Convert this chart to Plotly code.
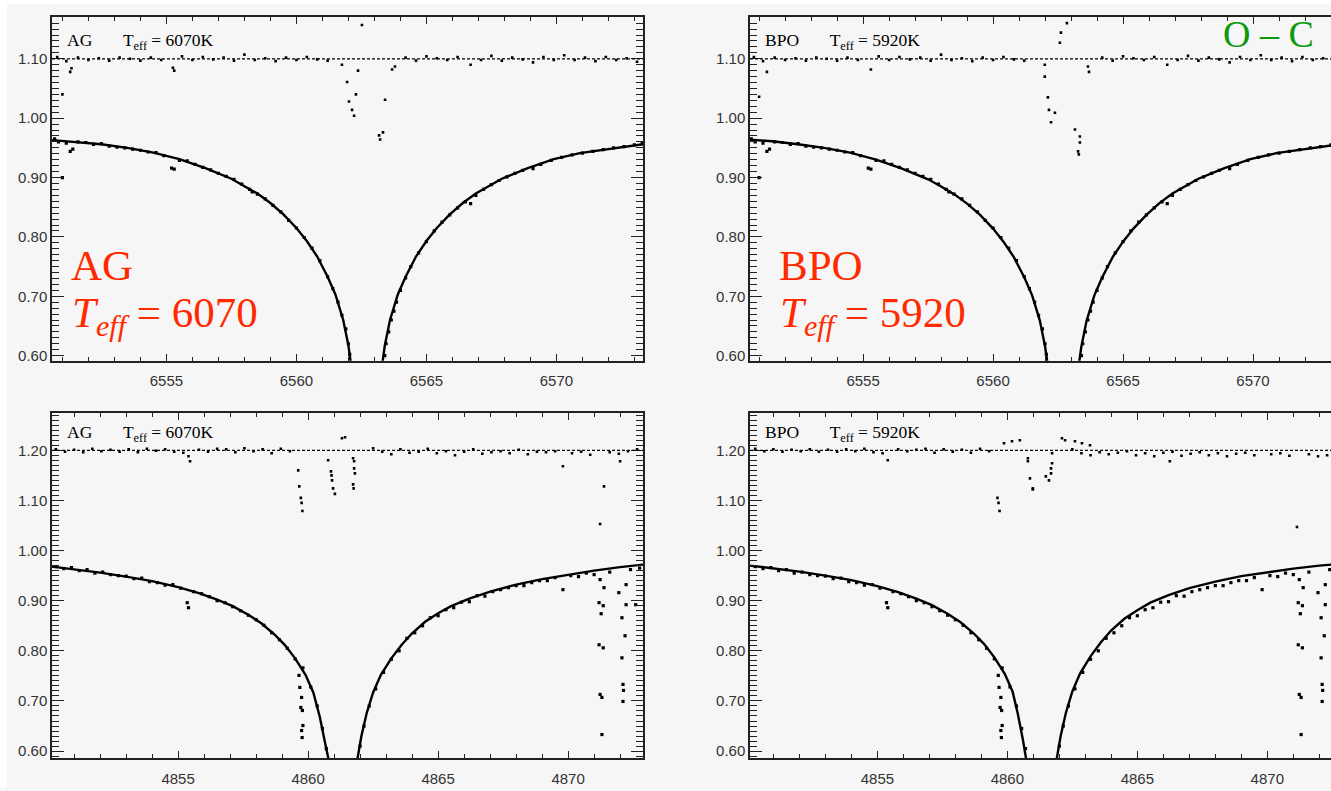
import plotly.graph_objects as go

# ---------------- H-alpha: model profiles (normalised flux) ----------------
ha_ag_blue_wave = [6550.6, 6551.5, 6552.5, 6553.5, 6554.5, 6555.5, 6556.5, 6557.5, 6558.0, 6558.5,
                   6559.0, 6559.5, 6560.0, 6560.4, 6560.8, 6561.2, 6561.5, 6561.8, 6562.0, 6562.1]
ha_ag_blue_flux = [0.963, 0.960, 0.956, 0.950, 0.942, 0.931, 0.916, 0.898, 0.886, 0.873,
                   0.857, 0.838, 0.815, 0.793, 0.767, 0.733, 0.703, 0.660, 0.617, 0.585]
ha_ag_red_wave = [6563.3, 6563.4, 6563.6, 6563.9, 6564.2, 6564.6, 6565.0, 6565.4, 6565.9, 6566.4,
                  6566.9, 6567.4, 6567.9, 6568.9, 6569.9, 6570.9, 6571.9, 6572.9, 6573.5]
ha_ag_red_flux = [0.585, 0.617, 0.660, 0.703, 0.733, 0.767, 0.793, 0.815, 0.838, 0.857,
                  0.873, 0.886, 0.898, 0.916, 0.931, 0.941, 0.947, 0.954, 0.957]

ha_bpo_blue_wave = [6550.6, 6551.5, 6552.5, 6553.5, 6554.5, 6555.5, 6556.5, 6557.5, 6558.0, 6558.5,
                    6559.0, 6559.5, 6560.0, 6560.4, 6560.8, 6561.2, 6561.5, 6561.8, 6562.0, 6562.1]
ha_bpo_blue_flux = [0.964, 0.961, 0.956, 0.950, 0.942, 0.930, 0.915, 0.897, 0.885, 0.872,
                    0.856, 0.837, 0.814, 0.792, 0.766, 0.732, 0.702, 0.659, 0.616, 0.585]
ha_bpo_red_wave = [6563.3, 6563.4, 6563.6, 6563.9, 6564.2, 6564.6, 6565.0, 6565.4, 6565.9, 6566.4,
                   6566.9, 6567.4, 6567.9, 6568.9, 6569.9, 6570.9, 6571.9, 6572.9, 6573.5]
ha_bpo_red_flux = [0.585, 0.616, 0.659, 0.702, 0.732, 0.766, 0.792, 0.814, 0.837, 0.857,
                   0.873, 0.886, 0.898, 0.916, 0.931, 0.941, 0.947, 0.954, 0.957]

# ---------------- H-alpha: observed spectrum ----------------
ha_obs_wave = [6550.7, 6550.85, 6551.0, 6551.15, 6551.3, 6551.4, 6551.6, 6551.9, 6552.2, 6552.5,
               6552.8, 6553.1, 6553.4, 6553.7, 6554.0, 6554.3, 6554.6, 6554.9, 6555.2, 6555.3,
               6555.5, 6555.8, 6556.1, 6556.4, 6556.7, 6557.0, 6557.3, 6557.6, 6557.9, 6558.2,
               6558.3, 6558.5, 6558.8, 6559.1, 6559.4, 6559.7, 6560.0, 6560.3, 6560.6, 6560.9,
               6561.2, 6561.4, 6561.6, 6561.75, 6561.9, 6562.0, 6562.05,
               6563.4, 6563.45, 6563.55, 6563.65, 6563.75, 6563.85, 6564.0, 6564.2, 6564.4,
               6564.7, 6565.0, 6565.3, 6565.6, 6565.9, 6566.2, 6566.5, 6566.7, 6566.9, 6567.2,
               6567.5, 6567.8, 6568.1, 6568.4, 6568.7, 6569.1, 6569.4, 6569.8, 6570.2, 6570.6,
               6571.0, 6571.4, 6571.8, 6572.2, 6572.6, 6573.0, 6573.3]
ha_obs_flux = [0.965, 0.960, 0.900, 0.958, 0.944, 0.948, 0.960, 0.959, 0.956, 0.957,
               0.953, 0.951, 0.950, 0.948, 0.946, 0.943, 0.942, 0.937, 0.916, 0.914,
               0.929, 0.928, 0.922, 0.917, 0.913, 0.907, 0.902, 0.897, 0.889, 0.880,
               0.876, 0.872, 0.864, 0.853, 0.842, 0.828, 0.815, 0.799, 0.781, 0.760,
               0.733, 0.713, 0.690, 0.668, 0.645, 0.620, 0.602,
               0.600, 0.620, 0.640, 0.660, 0.675, 0.690, 0.710, 0.731, 0.750,
               0.773, 0.792, 0.810, 0.825, 0.837, 0.849, 0.859, 0.856, 0.870, 0.880,
               0.888, 0.895, 0.901, 0.907, 0.912, 0.915, 0.922, 0.929, 0.934, 0.938,
               0.941, 0.944, 0.947, 0.950, 0.952, 0.955, 0.957]

# ---------------- H-alpha: O - C residuals ----------------
ha_oc_noise_wave = [6550.8, 6551.15, 6551.6, 6552.0, 6552.4, 6552.8, 6553.2, 6553.6, 6554.0, 6554.4,
                    6554.8, 6555.6, 6556.0, 6556.4, 6556.8, 6557.2, 6557.6, 6558.0, 6558.4, 6558.8,
                    6559.2, 6559.6, 6560.0, 6560.4, 6560.8, 6561.2, 6564.2, 6564.6, 6565.0, 6565.4,
                    6565.8, 6566.2, 6566.7, 6567.1, 6567.5, 6567.9, 6568.3, 6568.7, 6569.1, 6569.5,
                    6569.9, 6570.3, 6570.7, 6571.1, 6571.5, 6571.9, 6572.3, 6572.7, 6573.1]
ha_oc_noise = [0.003, -0.004, 0.002, -0.002, 0.001, -0.003, 0.002, 0.000, -0.003, 0.002,
               -0.002, 0.004, -0.002, 0.003, -0.001, 0.002, -0.003, 0.007, -0.002, 0.001,
               -0.004, 0.002, -0.002, 0.003, -0.001, -0.003, 0.002, -0.003, 0.004, 0.001,
               -0.002, 0.003, -0.010, -0.002, 0.005, -0.003, 0.002, -0.001, -0.006, 0.003,
               -0.002, 0.006, -0.002, 0.002, -0.004, 0.003, -0.002, 0.001, -0.005]

ha_oc_ag_wave = [6551.0, 6551.3, 6551.35, 6555.25, 6555.3, 6561.75, 6561.95, 6562.02, 6562.14, 6562.22,
                 6562.29, 6562.37, 6562.52, 6563.18, 6563.22, 6563.33, 6563.41, 6563.68, 6563.79]
ha_oc_ag = [-0.060, -0.022, -0.016, -0.015, -0.020, -0.010, -0.039, -0.072, -0.086, -0.096,
            -0.060, -0.020, 0.057, -0.129, -0.136, -0.124, -0.069, -0.018, -0.013]

ha_oc_bpo_wave = [6551.0, 6551.3, 6555.3, 6561.99, 6561.99, 6562.11, 6562.15, 6562.23, 6562.38, 6562.57,
                  6562.61, 6562.84, 6563.15, 6563.27, 6563.30, 6563.34, 6563.34, 6563.65, 6563.69]
ha_oc_bpo = [-0.064, -0.022, -0.018, -0.010, -0.030, -0.065, -0.086, -0.107, -0.091, 0.027,
             0.044, 0.060, -0.119, -0.156, -0.161, -0.131, -0.141, -0.013, -0.022]

# ---------------- H-beta: model profiles ----------------
hb_ag_blue_wave = [4850.15, 4851.0, 4852.0, 4853.0, 4854.0, 4855.0, 4855.8, 4856.5, 4857.1, 4857.7,
                   4858.2, 4858.7, 4859.1, 4859.5, 4859.9, 4860.2, 4860.45, 4860.65, 4860.78]
hb_ag_blue_flux = [0.968, 0.963, 0.956, 0.948, 0.939, 0.927, 0.915, 0.902, 0.889, 0.872,
                   0.855, 0.833, 0.812, 0.785, 0.752, 0.717, 0.668, 0.617, 0.585]
hb_ag_red_wave = [4861.9, 4862.05, 4862.25, 4862.5, 4862.8, 4863.2, 4863.6, 4864.0, 4864.5, 4865.0,
                  4865.5, 4866.2, 4867.0, 4868.0, 4869.0, 4870.0, 4871.0, 4872.0, 4872.9]
hb_ag_red_flux = [0.585, 0.630, 0.675, 0.717, 0.752, 0.785, 0.812, 0.835, 0.858, 0.875,
                  0.889, 0.904, 0.918, 0.932, 0.943, 0.952, 0.960, 0.967, 0.972]

hb_bpo_blue_wave = [4850.1, 4851.0, 4852.0, 4853.0, 4854.0, 4855.0, 4855.8, 4856.5, 4857.1, 4857.7,
                    4858.2, 4858.7, 4859.1, 4859.5, 4859.9, 4860.2, 4860.4, 4860.6, 4860.72]
hb_bpo_blue_flux = [0.970, 0.965, 0.958, 0.950, 0.941, 0.929, 0.917, 0.904, 0.891, 0.874,
                    0.857, 0.835, 0.814, 0.787, 0.754, 0.719, 0.675, 0.622, 0.585]
hb_bpo_red_wave = [4861.9, 4862.05, 4862.25, 4862.5, 4862.8, 4863.2, 4863.6, 4864.0, 4864.5, 4865.0,
                   4865.5, 4866.2, 4867.0, 4868.0, 4869.0, 4870.0, 4871.0, 4872.0, 4872.9]
hb_bpo_red_flux = [0.585, 0.630, 0.676, 0.719, 0.755, 0.789, 0.817, 0.841, 0.864, 0.881,
                   0.896, 0.911, 0.925, 0.938, 0.949, 0.957, 0.964, 0.970, 0.974]

# ---------------- H-beta: observed spectrum ----------------
hb_obs_wave = [4850.3, 4850.6, 4850.9, 4851.2, 4851.5, 4851.8, 4852.1, 4852.4, 4852.7, 4853.0,
               4853.3, 4853.6, 4853.9, 4854.2, 4854.5, 4854.8, 4855.1, 4855.35, 4855.4, 4855.6,
               4855.9, 4856.2, 4856.5, 4856.8, 4857.1, 4857.4, 4857.7, 4858.0, 4858.3, 4858.6,
               4858.9, 4859.2, 4859.5, 4859.65, 4859.68, 4859.75, 4859.72, 4859.78, 4859.8, 4859.75,
               4859.77, 4859.8, 4860.1, 4860.35, 4860.55, 4860.7,
               4862.0, 4862.15, 4862.35, 4862.6, 4862.9, 4863.2, 4863.5, 4863.8, 4864.1, 4864.4,
               4864.7, 4865.0, 4865.3, 4865.6, 4865.9, 4866.2, 4866.5, 4866.8, 4867.1, 4867.4,
               4867.7, 4868.0, 4868.3, 4868.6, 4868.9, 4869.2, 4869.5, 4869.8, 4870.1, 4870.4,
               4870.7, 4871.0, 4871.19, 4871.35, 4871.27, 4871.19, 4871.35, 4871.23, 4871.3, 4871.3,
               4871.23, 4871.38, 4871.6, 4871.95, 4872.07, 4872.19, 4872.07, 4872.11, 4872.13, 4872.11,
               4872.23, 4872.23, 4872.4, 4872.6, 4872.75]
hb_obs_flux = [0.968, 0.964, 0.966, 0.960, 0.962, 0.955, 0.957, 0.952, 0.950, 0.949,
               0.944, 0.945, 0.938, 0.936, 0.931, 0.932, 0.925, 0.896, 0.886, 0.918,
               0.914, 0.908, 0.900, 0.896, 0.888, 0.880, 0.871, 0.862, 0.851, 0.836,
               0.822, 0.805, 0.784, 0.751, 0.727, 0.707, 0.687, 0.681, 0.651, 0.641,
               0.627, 0.766, 0.728, 0.690, 0.645, 0.605,
               0.610, 0.650, 0.690, 0.724, 0.757, 0.783, 0.800, 0.825, 0.836, 0.850,
               0.866, 0.870, 0.882, 0.886, 0.897, 0.898, 0.910, 0.909, 0.918, 0.922,
               0.926, 0.930, 0.930, 0.936, 0.940, 0.940, 0.946, 0.922, 0.950, 0.948,
               0.955, 0.952, 0.896, 0.890, 0.874, 0.812, 0.806, 0.713, 0.707, 0.633,
               0.942, 0.926, 0.957, 0.916, 0.866, 0.830, 0.786, 0.733, 0.721, 0.699,
               0.892, 0.932, 0.962, 0.892, 0.965]

# ---------------- H-beta: O - C residuals ----------------
hb_oc_noise_wave = [4850.3, 4850.65, 4851.0, 4851.35, 4851.7, 4852.05, 4852.4, 4852.75, 4853.1, 4853.45,
                    4853.8, 4854.15, 4854.5, 4854.85, 4855.2, 4855.8, 4856.15, 4856.5, 4856.85, 4857.2,
                    4857.55, 4857.9, 4858.25, 4858.6, 4858.95, 4859.3, 4862.5, 4862.85, 4863.2, 4863.55,
                    4863.9, 4864.25, 4864.6, 4864.95, 4865.3, 4865.65, 4866.0, 4866.35, 4866.7, 4867.05,
                    4867.4, 4867.75, 4868.1, 4868.45, 4868.8, 4869.15, 4869.5, 4870.15, 4870.5, 4870.85,
                    4871.6, 4871.95, 4872.3, 4872.65]
hb_oc_noise_ag = [0.002, -0.003, 0.001, -0.004, 0.003, -0.002, 0.001, -0.003, 0.002, -0.004,
                  0.003, -0.001, 0.002, -0.003, -0.005, 0.001, -0.003, 0.003, 0.002, -0.004,
                  0.004, -0.002, 0.002, -0.006, 0.003, -0.002, 0.004, -0.003, -0.008, 0.002,
                  -0.005, -0.003, 0.003, -0.006, -0.002, -0.010, -0.003, 0.002, -0.007, -0.004,
                  -0.002, -0.006, 0.001, -0.008, -0.003, -0.004, -0.002, -0.006, -0.003, -0.009,
                  -0.004, -0.007, -0.002, 0.002]
hb_oc_noise_bpo = [0.003, -0.002, 0.002, -0.003, 0.001, -0.002, 0.002, -0.003, 0.001, -0.003,
                   0.002, -0.002, 0.003, -0.004, -0.006, 0.002, -0.002, 0.001, 0.003, -0.005,
                   0.002, -0.003, 0.001, -0.005, 0.003, -0.002, 0.002, -0.006, -0.010, -0.004,
                   -0.008, -0.005, -0.002, -0.010, -0.006, -0.012, -0.005, -0.003, -0.011, -0.007,
                   -0.004, -0.010, -0.006, -0.012, -0.007, -0.005, -0.010, -0.008, -0.006, -0.011,
                   -0.008, -0.012, -0.010, -0.006]

hb_oc_ag_wave = [4855.4, 4855.46, 4859.62, 4859.66, 4859.72, 4859.75, 4859.78, 4860.77, 4860.88, 4860.9,
                 4860.92, 4860.96, 4861.03, 4861.3, 4861.42, 4861.73, 4861.77, 4861.77, 4861.8, 4861.73,
                 4861.75, 4869.8, 4872.0, 4871.38, 4871.23]
hb_oc_ag = [-0.012, -0.022, -0.040, -0.072, -0.095, -0.105, -0.121, -0.020, -0.042, -0.050,
            -0.060, -0.076, -0.087, 0.024, 0.026, -0.016, -0.022, -0.036, -0.046, -0.068,
            -0.076, -0.032, -0.022, -0.072, -0.147]

hb_oc_bpo_wave = [4855.4, 4859.62, 4859.66, 4859.7, 4859.87, 4860.18, 4860.48, 4860.79, 4860.79, 4860.87,
                  4860.98, 4860.98, 4861.48, 4861.6, 4861.68, 4861.68, 4861.72, 4861.72, 4862.1, 4862.22,
                  4862.6, 4862.87, 4863.18, 4866.25, 4871.14]
hb_oc_bpo = [-0.020, -0.095, -0.105, -0.121, 0.014, 0.018, 0.020, -0.016, -0.022, -0.056,
             -0.076, -0.078, -0.052, -0.060, -0.036, -0.046, -0.006, -0.026, 0.024, 0.020,
             0.018, 0.014, 0.010, -0.022, -0.153]

OC_ZERO_HA = 1.10   # level at which the H-alpha residuals are drawn
OC_ZERO_HB = 1.20   # level at which the H-beta residuals are drawn

# ---------------- figure layout ----------------
W, H = 1331, 791
SERIF = "Liberation Serif, Times New Roman, serif"
SANS = "Liberation Sans, Arial, sans-serif"
RED = "#ff2a00"
GREEN = "#0c9a0c"
BG = "#f6f6f6"


def px_x(p):
    return p / W


def px_y(p):
    return 1 - p / H


panels = [
    dict(key="", method="AG", teff=6070,
         blue=(ha_ag_blue_wave, ha_ag_blue_flux), red=(ha_ag_red_wave, ha_ag_red_flux),
         obs=(ha_obs_wave, ha_obs_flux),
         oc=[(ha_oc_noise_wave, ha_oc_noise), (ha_oc_ag_wave, ha_oc_ag)], zero=OC_ZERO_HA,
         xdom=(52, 643), ydom=(17, 362), xr=(6550.6, 6573.33), yr=(0.5916, 1.1705),
         right=True),
    dict(key="2", method="BPO", teff=5920,
         blue=(ha_bpo_blue_wave, ha_bpo_blue_flux), red=(ha_bpo_red_wave, ha_bpo_red_flux),
         obs=(ha_obs_wave, ha_obs_flux),
         oc=[(ha_oc_noise_wave, ha_oc_noise), (ha_oc_bpo_wave, ha_oc_bpo)], zero=OC_ZERO_HA,
         xdom=(750, 1331), ydom=(17, 362), xr=(6550.65, 6573.0), yr=(0.5916, 1.1705),
         right=False),
    dict(key="3", method="AG", teff=6070,
         blue=(hb_ag_blue_wave, hb_ag_blue_flux), red=(hb_ag_red_wave, hb_ag_red_flux),
         obs=(hb_obs_wave, hb_obs_flux),
         oc=[(hb_oc_noise_wave, hb_oc_noise_ag), (hb_oc_ag_wave, hb_oc_ag)], zero=OC_ZERO_HB,
         xdom=(52, 643), ydom=(415, 761), xr=(4850.15, 4872.88), yr=(0.586, 1.2735),
         right=True),
    dict(key="4", method="BPO", teff=5920,
         blue=(hb_bpo_blue_wave, hb_bpo_blue_flux), red=(hb_bpo_red_wave, hb_bpo_red_flux),
         obs=(hb_obs_wave, hb_obs_flux),
         oc=[(hb_oc_noise_wave, hb_oc_noise_bpo), (hb_oc_bpo_wave, hb_oc_bpo)], zero=OC_ZERO_HB,
         xdom=(750, 1331), ydom=(415, 761), xr=(4850.1, 4872.45), yr=(0.586, 1.2735),
         right=False),
]

fig = go.Figure()
layout = dict(
    width=W, height=H, autosize=False,
    margin=dict(l=0, r=0, t=0, b=0, pad=0),
    paper_bgcolor=BG, plot_bgcolor=BG,
    showlegend=False,
    shapes=[], annotations=[],
)

axis_common = dict(
    showgrid=False, zeroline=False, showline=True, linecolor="#222", linewidth=1.5,
    ticks="inside", tickcolor="#222", tickwidth=1,
    tickfont=dict(family=SANS, size=15, color="#333"),
)

for p in panels:
    k = p["key"]
    xa, ya = "x" + k, "y" + k
    line = dict(color="black", width=2.4)
    for wave, flux in (p["blue"], p["red"]):
        fig.add_trace(go.Scatter(x=wave, y=flux, mode="lines", line=line,
                                 xaxis=xa, yaxis=ya, hoverinfo="skip"))
    fig.add_trace(go.Scatter(x=p["obs"][0], y=p["obs"][1], mode="markers",
                             marker=dict(symbol="square", size=3.2, color="black"),
                             xaxis=xa, yaxis=ya, cliponaxis=True, hoverinfo="skip"))
    for wave, resid in p["oc"]:
        fig.add_trace(go.Scatter(x=wave, y=[p["zero"] + r for r in resid], mode="markers",
                                 marker=dict(symbol="square", size=2.6, color="black"),
                                 xaxis=xa, yaxis=ya, cliponaxis=True, hoverinfo="skip"))

    # zero level of the O - C residuals
    layout["shapes"].append(dict(type="line", xref=xa + " domain", yref=ya,
                                 x0=0, x1=1, y0=p["zero"], y1=p["zero"],
                                 line=dict(color="black", width=1.2, dash="3px,2px")))

    x0, x1 = p["xdom"]
    y0, y1 = p["ydom"]
    ax_x = dict(axis_common, domain=[px_x(x0), px_x(x1)], range=list(p["xr"]),
                anchor=ya, mirror="allticks", tickmode="linear", dtick=5, tick0=0,
                ticklen=7, ticklabelstandoff=6,
                minor=dict(ticks="inside", dtick=1, ticklen=4, tickcolor="#222"))
    ax_y = dict(axis_common, domain=[px_y(y1), px_y(y0)], range=list(p["yr"]),
                anchor=xa, mirror="allticks" if p["right"] else False,
                tickmode="linear", dtick=0.1, tick0=0.6, tickformat=".2f",
                ticklen=12,
                minor=dict(ticks="inside", dtick=0.01, ticklen=7, tickcolor="#222"))
    layout["xaxis" + k] = ax_x
    layout["yaxis" + k] = ax_y

    # panel caption
    cap_y = 42 if y0 < 100 else 435
    tx = 65 if x0 < 100 else 763
    gap = "\u00a0" * 7
    layout["annotations"].append(dict(
        xref="paper", yref="paper", x=px_x(tx), y=px_y(cap_y), xanchor="left", yanchor="middle",
        showarrow=False,
        text=f"{p['method']}{gap}T<sub>eff</sub> = {p['teff']}K",
        font=dict(family=SERIF, size=17.5, color="black")))

# large labels on the H-alpha panels
for p, lx in ((panels[0], 70), (panels[1], 778)):
    layout["annotations"].append(dict(
        xref="paper", yref="paper", x=px_x(lx - 1), y=px_y(267), xanchor="left", yanchor="middle",
        showarrow=False, text=p["method"], font=dict(family=SERIF, size=43, color=RED)))
    layout["annotations"].append(dict(
        xref="paper", yref="paper", x=px_x(lx), y=px_y(317), xanchor="left", yanchor="middle",
        showarrow=False, text=f"<i>T<sub>eff</sub></i> = {p['teff']}",
        font=dict(family=SERIF, size=43, color=RED)))

layout["annotations"].append(dict(
    xref="paper", yref="paper", x=px_x(1221), y=px_y(34), xanchor="left", yanchor="middle",
    showarrow=False, text="O \u2013 C", font=dict(family=SERIF, size=38, color=GREEN)))

# thin white border along the top and left edges
layout["shapes"].append(dict(type="rect", xref="paper", yref="paper", x0=0, x1=1,
                             y0=px_y(4), y1=1, fillcolor="white", line=dict(width=0),
                             layer="below"))
layout["shapes"].append(dict(type="rect", xref="paper", yref="paper", x0=0, x1=px_x(7),
                             y0=0, y1=1, fillcolor="white", line=dict(width=0),
                             layer="below"))

fig.update_layout(**layout)
fig.write_html("out.html")
